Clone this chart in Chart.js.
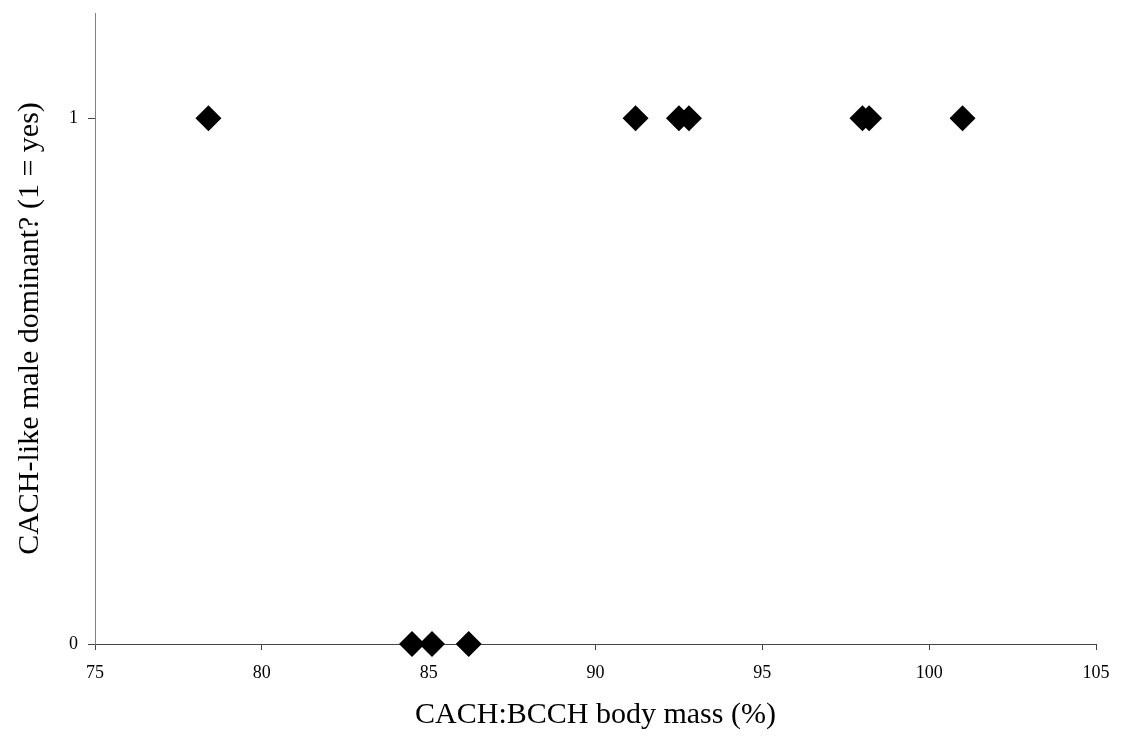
<!DOCTYPE html>
<html>
<head>
<meta charset="utf-8">
<script src="https://cdn.jsdelivr.net/npm/chart.js@4.4.1/dist/chart.umd.min.js"></script>
<style>
  html, body { margin: 0; padding: 0; background: #fff; }
  #wrap { width: 1123px; height: 738px; position: relative; }
</style>
</head>
<body>
<div id="wrap"><canvas id="c"></canvas></div>
<script>
// Data
const massRatio = [78.4, 84.5, 85.1, 86.2, 91.2, 92.5, 92.8, 98.0, 98.2, 101.0];
const dominant  = [1, 0, 0, 0, 1, 1, 1, 1, 1, 1];
const xTicks = [75, 80, 85, 90, 95, 100, 105];
const yTicks = [0, 1];
const xTitle = 'CACH:BCCH body mass (%)';
const yTitle = 'CACH-like male dominant? (1 = yes)';

const points = massRatio.map((x, i) => ({ x: x, y: dominant[i] }));
const serif = "'Liberation Serif', 'Times New Roman', serif";

new Chart(document.getElementById('c'), {
  type: 'scatter',
  data: {
    datasets: [{
      data: points,
      pointStyle: 'rectRot',
      pointRadius: 13,
      pointHoverRadius: 13,
      backgroundColor: '#000',
      borderColor: '#000',
      borderWidth: 0,
      clip: false
    }]
  },
  options: {
    responsive: true,
    maintainAspectRatio: false,
    devicePixelRatio: 1,
    animation: false,
    layout: { padding: { top: 9, right: 27, left: 0, bottom: 0 } },
    plugins: { legend: { display: false }, tooltip: { enabled: false } },
    scales: {
      x: {
        type: 'linear',
        min: 75, max: 105,
        afterBuildTicks: s => { s.ticks = xTicks.map(v => ({ value: v })); },
        afterFit: s => { s.height = 94; },
        grid: { display: true, drawOnChartArea: false, drawTicks: true, tickLength: 6, color: '#444' },
        border: { display: true, color: '#444', width: 1 },
        ticks: { color: '#000', font: { family: serif, size: 18 }, padding: 12, maxRotation: 0 },
        title: { display: true, text: xTitle, color: '#000', font: { family: serif, size: 30 }, padding: { top: 0, bottom: 5 } }
      },
      y: {
        type: 'linear',
        min: 0, max: 1.2,
        afterBuildTicks: s => { s.ticks = yTicks.map(v => ({ value: v })); },
        afterFit: s => { s.width = 95; s.paddingTop = 0; },
        grid: { display: true, drawOnChartArea: false, drawTicks: true, tickLength: 7, color: '#444' },
        border: { display: true, color: '#808080', width: 1 },
        ticks: { color: '#000', font: { family: serif, size: 18 }, padding: 10 },
        title: { display: true, text: yTitle, color: '#000', font: { family: serif, size: 30 }, padding: { top: 12, bottom: 0 } }
      }
    }
  }
});
</script>
</body>
</html>
